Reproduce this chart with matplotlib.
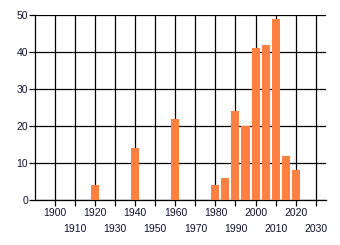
import matplotlib
matplotlib.use("Agg")
import matplotlib.pyplot as plt

years = [1920, 1940, 1960, 1980, 1985, 1990, 1995, 2000, 2005, 2010, 2015, 2020]
counts = [4, 14, 22, 4, 6, 24, 20, 41, 42, 49, 12, 8]
xticks_even = [1900, 1920, 1940, 1960, 1980, 2000, 2020]
xticks_odd = [1910, 1930, 1950, 1970, 1990, 2010, 2030]
yticks = [0, 10, 20, 30, 40, 50]

plt.rcParams['font.family'] = ['Liberation Sans', 'DejaVu Sans']

fig = plt.figure(figsize=(3.4, 2.45), dpi=100)
ax = fig.add_axes([35/340, 45/245, (325.7-35)/340, (200-15)/245])

ax.bar(years, counts, width=4, color='#FF8040', zorder=3)

ax.set_xlim(1890, 2035)
ax.set_ylim(0, 50)
ax.set_yticks(yticks)
ax.set_xticks(xticks_even)
ax.set_xticklabels([str(t) for t in xticks_even])
ax.set_xticks(xticks_odd, minor=True)
ax.set_xticklabels([str(t) for t in xticks_odd], minor=True)

ax.grid(True, which='both', axis='x', color='black', linewidth=0.9, zorder=0)
ax.grid(True, which='major', axis='y', color='black', linewidth=0.9, zorder=0)
ax.set_axisbelow(True)
for s in ['top', 'right']:
    ax.spines[s].set_visible(False)
for s in ['left', 'bottom']:
    ax.spines[s].set_linewidth(0.9)
    ax.spines[s].set_color('black')

ax.tick_params(axis='both', which='both', length=4, width=0.9, color='black',
               labelsize=7.5, labelcolor='#111133')
ax.tick_params(axis='x', which='major', pad=2)
ax.tick_params(axis='x', which='minor', pad=13)
ax.tick_params(axis='y', pad=1)

fig.savefig("out.png", dpi=100)
